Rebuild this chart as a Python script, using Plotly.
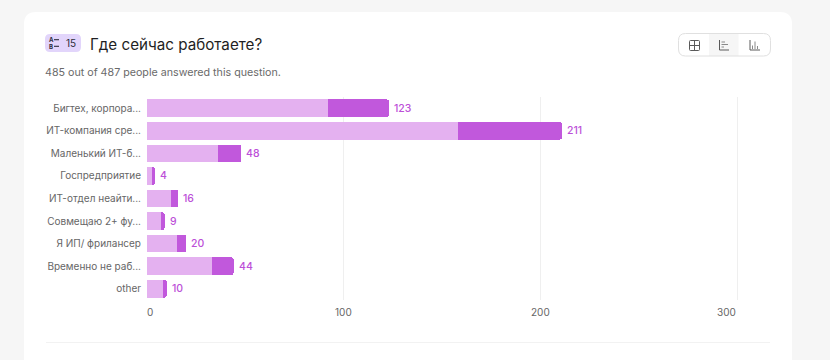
import plotly.graph_objects as go

categories = ["Бигтех, корпора...", "ИТ-компания сре...", "Маленький ИТ-б...", "Госпредприятие",
              "ИТ-отдел неайти...", "Совмещаю 2+ фу...", "Я ИП/ фрилансер", "Временно не раб...", "other"]
light_values = [92, 158, 36, 3, 12, 7, 15, 33, 8]
dark_values = [31, 53, 12, 1, 4, 2, 5, 11, 2]
totals = [123, 211, 48, 4, 16, 9, 20, 44, 10]
x_ticks = [0, 100, 200, 300]
x_range = [0, 302]

W, H = 830, 360
FONT = "Inter, 'Noto Sans', sans-serif"
LIGHT, DARK = "#E4B1F0", "#C158DC"
TEXT_GREY = "#666666"
px = lambda v: v / W
py = lambda v: 1 - v / H

def rrect(x0, y0, x1, y1, r, tl=True, tr=True, br=True, bl=True):
    X = px; Y = py
    p = f"M{X(x0+(r if tl else 0))},{Y(y0)} L{X(x1-(r if tr else 0))},{Y(y0)} "
    if tr: p += f"Q{X(x1)},{Y(y0)} {X(x1)},{Y(y0+r)} "
    p += f"L{X(x1)},{Y(y1-(r if br else 0))} "
    if br: p += f"Q{X(x1)},{Y(y1)} {X(x1-r)},{Y(y1)} "
    p += f"L{X(x0+(r if bl else 0))},{Y(y1)} "
    if bl: p += f"Q{X(x0)},{Y(y1)} {X(x0)},{Y(y1-r)} "
    p += f"L{X(x0)},{Y(y0+(r if tl else 0))} "
    if tl: p += f"Q{X(x0)},{Y(y0)} {X(x0+r)},{Y(y0)} "
    return p + "Z"

shapes = []
def path(d, fill="rgba(0,0,0,0)", line=None, lw=0, layer="below"):
    shapes.append(dict(type="path", xref="paper", yref="paper", path=d, fillcolor=fill,
                       line=dict(color=line or "rgba(0,0,0,0)", width=lw), layer=layer))
def seg(x0, y0, x1, y1, color, lw=1.0):
    shapes.append(dict(type="line", xref="paper", yref="paper", x0=px(x0), y0=py(y0), x1=px(x1), y1=py(y1),
                       line=dict(color=color, width=lw), layer="above"))

# card
path(rrect(24, 12, 792, 372, 12), fill="#ffffff")
# badge
path(rrect(45, 34, 81, 52, 5), fill="#E2D5FB")
seg(54, 39.7, 59, 39.7, "#2c2c3a", 1.1)
seg(54, 46.3, 59, 46.3, "#2c2c3a", 1.1)
# toggle
path(rrect(709, 33.5, 738.5, 56, 0), fill="#f6f6f6")
path(rrect(678.5, 33.5, 770.5, 56, 7), line="#e0e0e0", lw=1)
ic = "#5a5a5a"
# grid icon
path(rrect(689.5, 40.5, 699.5, 50.5, 1), line=ic, lw=1, layer="above")
seg(694.5, 40.5, 694.5, 50.5, ic); seg(689.5, 45.5, 699.5, 45.5, ic)
# horizontal bars icon
seg(719.5, 40, 719.5, 50, ic); seg(719.5, 50, 729, 50, ic)
seg(721.5, 42, 725, 42, "#8a8a8a"); seg(721.5, 44.5, 728, 44.5, "#8a8a8a"); seg(721.5, 47, 724, 47, "#8a8a8a")
# vertical bars icon
seg(750, 40, 750, 50, ic); seg(750, 50, 760, 50, ic)
seg(752.5, 45.5, 752.5, 49, "#8a8a8a"); seg(755, 41.5, 755, 49, "#8a8a8a"); seg(757.5, 46, 757.5, 49, "#8a8a8a")
# divider
seg(46, 342.5, 770, 342.5, "#f2f2f2", 1.2)

fig = go.Figure()
fig.add_bar(y=categories, x=light_values, orientation="h", marker=dict(color=LIGHT, line_width=0),
            width=0.78, showlegend=False)
fig.add_bar(y=categories, x=dark_values, orientation="h", marker=dict(color=DARK, line_width=0),
            width=0.78, showlegend=False)

ann = []
for c, t in zip(categories, totals):
    ann.append(dict(x=t, y=c, xref="x", yref="y", text=str(t), showarrow=False, xanchor="left", xshift=3,
                    font=dict(family=FONT, size=10.5, color="#BC4FD8", weight=500)))
for t in x_ticks:
    anchor = "left" if t == x_ticks[0] else "right" if t == x_ticks[-1] else "center"
    shift = -2 if t == x_ticks[0] else 1 if t == x_ticks[-1] else 0
    ann.append(dict(x=t, y=py(311.5), xref="x", yref="paper", text=str(t), showarrow=False, xanchor=anchor,
                    yanchor="middle", font=dict(family=FONT, size=10, color=TEXT_GREY), xshift=shift))
def label(x, y, text, size, color, weight=400):
    ann.append(dict(x=px(x), y=py(y), xref="paper", yref="paper", text=text, showarrow=False, xanchor="left",
                    yanchor="middle", xshift=-2, font=dict(family=FONT, size=size, color=color, weight=weight)))
label(66, 43, "15", 10, "#2c2c3a")
label(90, 44, "Где сейчас работаете?", 15.2, "#1f1f24")
label(45, 72.5, "485 out of 487 people answered this question.", 10.7, "#6a6a6a")
for letter, yy in (("A", 39.7), ("B", 46.3)):
    ann.append(dict(x=px(51), y=py(yy), xref="paper", yref="paper", text=letter, showarrow=False,
                    xanchor="center", yanchor="middle",
                    font=dict(family=FONT, size=6, color="#2c2c3a", weight=700)))

fig.update_layout(
    width=W, height=H, barmode="stack", barcornerradius=2, bargap=0.22,
    margin=dict(l=0, r=0, t=0, b=0), paper_bgcolor="#f6f6f6", plot_bgcolor="rgba(0,0,0,0)",
    shapes=shapes, annotations=ann, showlegend=False,
    xaxis=dict(domain=[px(147), px(741)], range=x_range, tickvals=x_ticks[1:], showticklabels=False,
               showgrid=True, gridcolor="#efefef", gridwidth=1, zeroline=False, showline=False, ticks=""),
    yaxis=dict(domain=[py(300), py(97)], categoryorder="array", categoryarray=categories, autorange="reversed",
               showgrid=False, zeroline=False, showline=False, ticks="outside", ticklen=3,
               tickcolor="rgba(0,0,0,0)", tickfont=dict(family=FONT, size=10, color=TEXT_GREY)),
)
fig.write_html("out.html", post_script="document.body.style.margin='0';document.documentElement.style.overflow='hidden';",
               config=dict(displayModeBar=False))
